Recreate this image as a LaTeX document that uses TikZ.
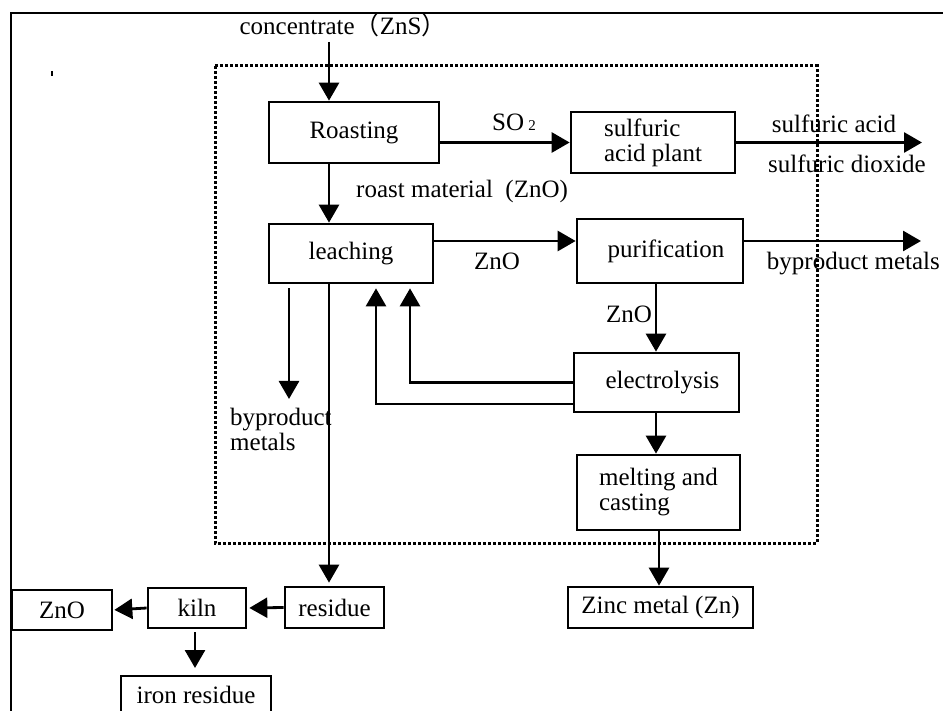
\documentclass[tikz,border=0pt]{standalone}
\usepackage{fontspec}
\setmainfont{Liberation Serif}
\newfontfamily\cjkfont{Noto Sans CJK SC}
\usetikzlibrary{arrows.meta,calc}
\begin{document}
\begin{tikzpicture}[x=1pt,y=-1pt,
  font=\fontsize{25pt}{25pt}\selectfont,
  box/.style 2 args={draw,line width=2.7pt,inner sep=0pt,minimum width=#1,minimum height=#2,align=left},
  boxline/.style={line width=2.7pt},
  arr/.style={line width=2.8pt,-{Triangle[width=20pt,length=18pt]}},
  lbl/.style={inner sep=0pt,align=left},
  frame/.style={line width=2.2pt},
  dotbox/.style={line width=3pt,dash pattern=on 2.6pt off 2.4pt}]
\useasboundingbox (0,0) rectangle (943,711);
\clip (0,0) rectangle (943,711);
\fill[white] (0,0) rectangle (943,711);
% outer frame
\draw[frame] (11,711) -- (11,13) -- (943,13);
\draw[line width=2pt] (52,71) -- (52,76);
% dotted boundary
\draw[dotbox] (215,66) rectangle (817,543);
% boxes
\node[box={170pt}{61pt}] (roast) at (354,132.5) {Roasting};
\node[box={164pt}{59pt}] (leach) at (351,253.5) {leaching};
\node[box={164pt}{61pt}] (acid) at (653,142.5) {sulfuric\\acid plant};
\node[box={166pt}{64pt}] (purif) at (660,251) {\hspace*{12pt}purification};
\node[box={165pt}{59pt}] (elec) at (656.5,382.5) {\hspace*{12pt}electrolysis};
\node[box={163pt}{75pt}] (melt) at (658.5,492.5) {melting and\\casting};
\node[box={185pt}{41pt}] (zinc) at (660.5,607.5) {Zinc metal (Zn)};
\node[box={99pt}{41pt}] (residue) at (334.5,607.5) {residue};
\node[box={98pt}{40pt}] (kiln) at (197,608) {kiln};
\node[box={100pt}{40pt}] (zno) at (62,610) {ZnO};
\node[lbl] (iron) at (196,695) {iron residue};
\draw[boxline] (121,713) -- (121,676) -- (271,676) -- (271,713);
\coordinate (irontop) at (195,676);
% labels
\node[lbl] (conc) at (343,25) {concentrate{\cjkfont （}ZnS{\cjkfont ）}};
\node[lbl] (so2) at (514,122) {SO\,{\fontsize{15pt}{15pt}\selectfont 2}};
\node[lbl,anchor=west] (roastlbl) at (356,191) {roast material\ \ (ZnO)};
\node[lbl] (zno1) at (497,261) {ZnO};
\node[lbl] (zno2) at (629,314) {ZnO};
\node[lbl] (sa) at (834,124) {sulfuric acid};
\node[lbl] (sd) at (847,164) {sulfuric dioxide};
\node[lbl,anchor=east] (bpm1) at (940,264) {byproduct metals};
\node[lbl,anchor=north west] (bpm2) at (230,408) {byproduct\\metals};
% coordinates
\coordinate (cin) at (329,42);
\coordinate (aout) at (922,142.5);
\coordinate (ly) at (0,241);
\coordinate (pout) at (921,241);
\coordinate (bpend) at (289,399);
\coordinate (fb1) at (0,382.5);
\coordinate (fb2) at (0,404);
% connectors
\draw[arr] (cin) -- (cin |- roast.north);
\draw[arr] (roast.south -| cin) -- (leach.north -| cin);
\draw[arr] (roast.east |- acid.west) -- (acid.west);
\draw[arr] (acid.east) -- (aout);
\draw[arr] (leach.east |- ly) -- (purif.west |- ly);
\draw[arr] (purif.east |- ly) -- (pout |- ly);
\draw[arr] (656,283) -- (elec.north -| 656,0);
\draw[arr,shorten >=4pt] (elec.west |- fb1) -| (leach.south -| 410,0);
\draw[arr,shorten >=4pt] (elec.west |- fb2) -| (leach.south -| 376,0);
\draw[arr,shorten <=4pt] (leach.south -| bpend) -- (bpend);
\draw[arr] (leach.south -| cin) -- ([yshift=3pt]residue.north -| cin);
\draw[arr,shorten >=2pt] (residue.west) -- (kiln.east);
\draw[arr,shorten >=1pt] (kiln.west) -- (zno.east);
\draw[arr,shorten <=3pt,shorten >=8pt] (kiln.south -| irontop) -- (irontop);
\draw[arr] (elec.south -| 656,0) -- (melt.north -| 656,0);
\draw[arr] (melt.south -| 659,0) -- (zinc.north -| 659,0);
\end{tikzpicture}
\end{document}
